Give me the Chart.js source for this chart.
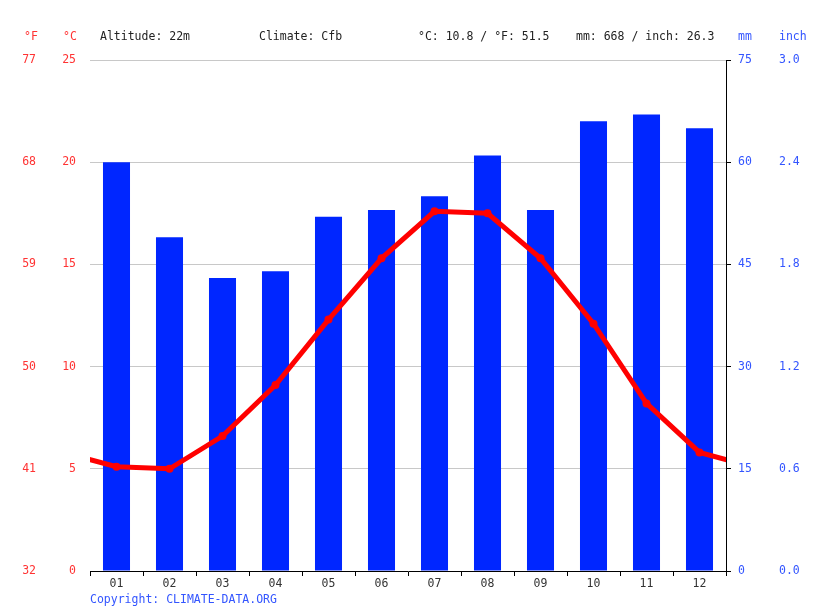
<!DOCTYPE html>
<html>
<head>
<meta charset="utf-8">
<script src="https://cdn.jsdelivr.net/npm/chart.js@4"></script>
<style>
  body { margin: 0; background: #fff; }
  #wrap { position: relative; width: 815px; height: 611px; }
  .t { position: absolute; font: 11.5px "DejaVu Sans Mono", monospace; line-height: 14px; white-space: pre; }
  .red { color: #ff3333; }
  .blue { color: #3355ff; }
  .dark { color: #222; }
</style>
</head>
<body>
<div id="wrap">
  <canvas id="myChart" width="815" height="611"></canvas>
  <div class="t red" style="left:24px;top:29px">°F</div>
  <div class="t red" style="left:63px;top:29px">°C</div>
  <div class="t dark" style="left:100px;top:29px">Altitude: 22m</div>
  <div class="t dark" style="left:259px;top:29px">Climate: Cfb</div>
  <div class="t dark" style="left:418px;top:29px">°C: 10.8 / °F: 51.5</div>
  <div class="t dark" style="left:576px;top:29px">mm: 668 / inch: 26.3</div>
  <div class="t blue" style="left:738px;top:29px">mm</div>
  <div class="t blue" style="left:779px;top:29px">inch</div>
  <div class="t blue" style="left:90px;top:592px">Copyright: CLIMATE-DATA.ORG</div>
</div>
<script>
// monthly climate values
var months = ["01", "02", "03", "04", "05", "06", "07", "08", "09", "10", "11", "12"];
var tempC = [5.1, 5.0, 6.6, 9.1, 12.3, 15.3, 17.6, 17.5, 15.3, 12.1, 8.2, 5.8];
var precipMm = [60, 49, 43, 44, 52, 53, 55, 61, 53, 66, 67, 65];

// axis ranges
var tempTicks = [0, 5, 10, 15, 20, 25];
var fahrTicks = [32, 41, 50, 59, 68, 77];
var mmTicks = [0, 15, 30, 45, 60, 75];
var inchTicks = [0.0, 0.6, 1.2, 1.8, 2.4, 3.0];

var FONT = { family: "'DejaVu Sans Mono', monospace", size: 11.5 };
var RED = '#ff3333';
var BLUE = '#3355ff';

// line runs off both edges towards the neighbouring month (Dec before Jan, Jan after Dec)
var lineData = [{ x: -0.5, y: tempC[11] }];
tempC.forEach(function(v, i) { lineData.push({ x: i + 0.5, y: v }); });
lineData.push({ x: 12.5, y: tempC[0] });

function fixWidth(w) {
    return function(scale) { scale.width = w; };
}

var ctx = document.getElementById('myChart').getContext('2d');
var chart = new Chart(ctx, {
    data: {
        labels: months,
        datasets: [{
            type: 'line',
            label: '°C',
            data: lineData,
            xAxisID: 'xl',
            yAxisID: 'yC',
            borderColor: '#ff0000',
            backgroundColor: '#ff0000',
            borderWidth: 5,
            pointRadius: 4,
            pointBorderWidth: 0,
            pointHoverRadius: 4,
            tension: 0,
            clip: 0,
            order: 0
        }, {
            type: 'bar',
            label: 'mm',
            data: precipMm,
            xAxisID: 'x',
            yAxisID: 'yMm',
            backgroundColor: '#0026ff',
            grouped: false,
            barPercentage: 0.51,
            categoryPercentage: 1.0,
            order: 1
        }]
    },
    options: {
        responsive: false,
        animation: false,
        events: [],
        layout: { padding: { top: 60, left: 0, right: 0, bottom: 0 } },
        plugins: { legend: { display: false }, tooltip: { enabled: false } },
        scales: {
            x: {
                type: 'category',
                position: 'bottom',
                offset: true,
                afterFit: function(scale) { scale.height = 40; },
                grid: {
                    offset: true,
                    drawOnChartArea: false,
                    drawTicks: true,
                    tickLength: 5,
                    tickColor: '#000'
                },
                border: { display: true, color: '#000', width: 1 },
                ticks: { color: '#333', font: FONT, padding: 1, maxRotation: 0 }
            },
            xl: {
                type: 'linear',
                display: false,
                min: 0,
                max: 12
            },
            yF: {
                type: 'linear',
                position: 'left',
                weight: 1,
                display: true,
                min: 32,
                max: 77,
                afterFit: fixWidth(45),
                afterBuildTicks: function(scale) {
                    scale.ticks = fahrTicks.map(function(v) { return { value: v }; });
                },
                grid: { display: false, drawTicks: false },
                border: { display: false },
                ticks: { color: RED, font: FONT, padding: 9 }
            },
            yC: {
                type: 'linear',
                position: 'left',
                weight: 0,
                min: 0,
                max: 25,
                afterFit: fixWidth(45),
                afterBuildTicks: function(scale) {
                    scale.ticks = tempTicks.map(function(v) { return { value: v }; });
                },
                grid: {
                    drawTicks: false,
                    color: function(c) { return c.tick && c.tick.value === 0 ? 'rgba(0,0,0,0)' : '#c8c8c8'; },
                    lineWidth: 1
                },
                border: { display: false },
                ticks: { color: RED, font: FONT, padding: 14 }
            },
            yMm: {
                type: 'linear',
                position: 'right',
                weight: 0,
                min: 0,
                max: 75,
                afterFit: fixWidth(45),
                afterBuildTicks: function(scale) {
                    scale.ticks = mmTicks.map(function(v) { return { value: v }; });
                },
                grid: {
                    drawOnChartArea: false,
                    drawTicks: true,
                    tickLength: 5,
                    tickColor: '#000'
                },
                border: { display: true, color: '#000', width: 1 },
                ticks: { color: BLUE, font: FONT, padding: 7 }
            },
            yIn: {
                type: 'linear',
                position: 'right',
                weight: 1,
                display: true,
                min: 0,
                max: 3,
                afterFit: fixWidth(44),
                afterBuildTicks: function(scale) {
                    scale.ticks = inchTicks.map(function(v) { return { value: v }; });
                },
                grid: { display: false, drawTicks: false },
                border: { display: false },
                ticks: {
                    color: BLUE,
                    font: FONT,
                    padding: 8,
                    callback: function(v) { return Number(v).toFixed(1); }
                }
            }
        }
    }
});
</script>
</body>
</html>
